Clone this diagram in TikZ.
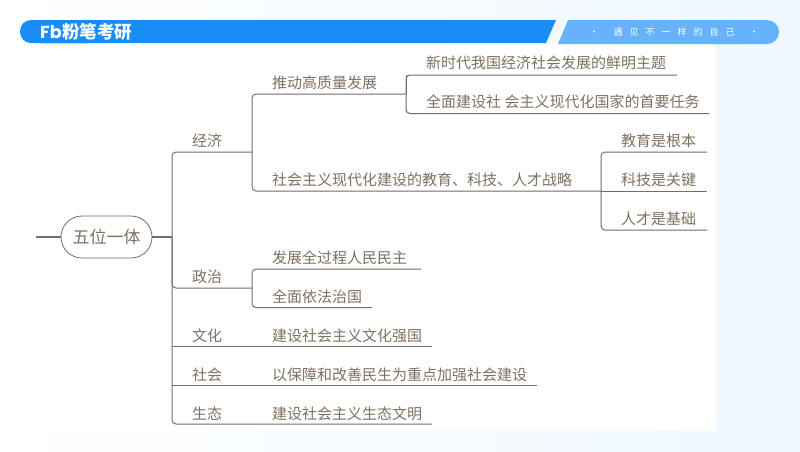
\documentclass[tikz,border=0pt]{standalone}
\usepackage{fontspec}
\setmainfont{Noto Sans CJK SC}
\newfontfamily\marcafont{Poppins}
\definecolor{textobrown}{HTML}{7F7060}
\definecolor{linegray}{HTML}{6E6E6E}
\definecolor{barblue}{HTML}{1A8CF5}
\definecolor{barlight}{HTML}{66B3FB}
\definecolor{fondo}{HTML}{EEF7FF}
\tikzstyle{tema} = [anchor=west, inner sep=0pt, text=textobrown, font=\fontsize{15}{15}\selectfont]
\tikzstyle{raiz} = [draw=linegray, thick, rounded corners=20.9pt, fill=white, minimum width=91pt, minimum height=42pt, inner sep=0pt, text=textobrown, font=\fontsize{17}{17}\selectfont]
\tikzstyle{rama} = [draw=linegray, line width=1pt, rounded corners=4pt]
\tikzstyle{marca} = [anchor=west, inner sep=0pt, text=white, font=\fontsize{17.5}{17.5}\selectfont\bfseries]

\begin{document}
\begin{tikzpicture}[x=1pt,y=-1pt]
	\useasboundingbox (0,0) rectangle (800,451);
	\shade[left color=white, right color=fondo] (0,0) rectangle (800,451);
	\fill[white] (0,44) rectangle (716,431);

	% cabecera
	\fill[barblue, rounded corners=11pt] (100,20) -- (20,20) -- (20,43) -- (100,43) -- cycle;
	\fill[barblue] (40,20) -- (556,20) -- (546,43) -- (40,43) -- cycle;
	\fill[barlight, rounded corners=12pt] (700,20) -- (779,20) -- (779,44) -- (700,44) -- cycle;
	\fill[barlight] (568,20) -- (740,20) -- (740,44) -- (558,44) -- cycle;
	\node[marca] (logo) at (40,32) {\marcafont Fb};
	\node[marca] (nombre) at (62,32) {粉笔考研};
	\node[inner sep=0pt, text=white, font=\fontsize{9}{9}\selectfont] (lema) at (674,32) {·\hspace{15pt}遇\hspace{7pt}见\hspace{7pt}不\hspace{7pt}一\hspace{7pt}样\hspace{7pt}的\hspace{7pt}自\hspace{7pt}己\hspace{15pt}·};

	% raiz
	\node[raiz] (wuwei) at (106.5,237) {五位一体};
	\coordinate (inicio) at (36,237);
	\coordinate (tronco) at (172,237);
	\draw[linegray, line width=1.4pt] (inicio) -- (wuwei);
	\draw[linegray, line width=1.4pt] (wuwei) -- (tronco);

	% primer nivel
	\node[tema] (jingji) at (192,141) {经济};
	\node[tema] (zhengzhi) at (192,277) {政治};
	\node[tema] (wenhua) at (192,336) {文化};
	\node[tema] (shehui) at (192,375) {社会};
	\node[tema] (shengtai) at (192,414) {生态};

	% segundo nivel
	\node[tema] (gaozhiliang) at (272,83) {推动高质量发展};
	\node[tema] (zhanlue) at (272,180) {社会主义现代化建设的教育、科技、人才战略};
	\node[tema] (minzhu) at (272,258) {发展全过程人民民主};
	\node[tema] (fazhi) at (272,297) {全面依法治国};
	\node[tema] (qiangguo) at (272,336) {建设社会主义文化强国};
	\node[tema] (minsheng) at (272,375) {以保障和改善民生为重点加强社会建设};
	\node[tema] (wenming) at (272,414) {建设社会主义生态文明};

	% tercer nivel
	\node[tema] (zhuti) at (426,63) {新时代我国经济社会发展的鲜明主题};
	\node[tema] (renwu) at (426,102) {全面建设社\ 会主义现代化国家的首要任务};
	\node[tema] (jiaoyu) at (621,141) {教育是根本};
	\node[tema] (keji) at (621,180) {科技是关键};
	\node[tema] (rencai) at (621,219) {人才是基础};

	% puntos de paso
	\coordinate (jJ) at (252,152);
	\coordinate (zJ) at (252,288);
	\coordinate (gJ) at (406,94);
	\coordinate (sJ) at (601,191);
	\coordinate (wE) at (432,346);
	\coordinate (mE) at (537,385);
	\coordinate (tE) at (432,424);
	\coordinate (a1) at (677,75);
	\coordinate (a2) at (709,113.5);
	\coordinate (b1) at (707,152);
	\coordinate (b2) at (707,191);
	\coordinate (b3) at (707,230);
	\coordinate (c1) at (421,269);
	\coordinate (c2) at (372,307.5);

	% conectores
	\draw[rama] (jJ) -- (tronco |- jJ) -- (tronco |- tE) -- (tE);
	\draw[rama] (tronco) -- (tronco |- zJ) -- (zJ);
	\draw[rama] (tronco |- wE) -- (wE);
	\draw[rama] (tronco |- mE) -- (mE);
	\draw[rama] (gJ) -- (jJ |- gJ) -- (jJ |- sJ) -- (sJ);
	\draw[rama] (a1) -- (gJ |- a1) -- (gJ |- a2) -- (a2);
	\draw[rama] (gJ) -- (gJ |- a1);
	\draw[rama] (b1) -- (sJ |- b1) -- (sJ |- b3) -- (b3);
	\draw[rama] (sJ) -- (b2);
	\draw[rama] (c1) -- (zJ |- c1) -- (zJ |- c2) -- (c2);
\end{tikzpicture}
\end{document}
